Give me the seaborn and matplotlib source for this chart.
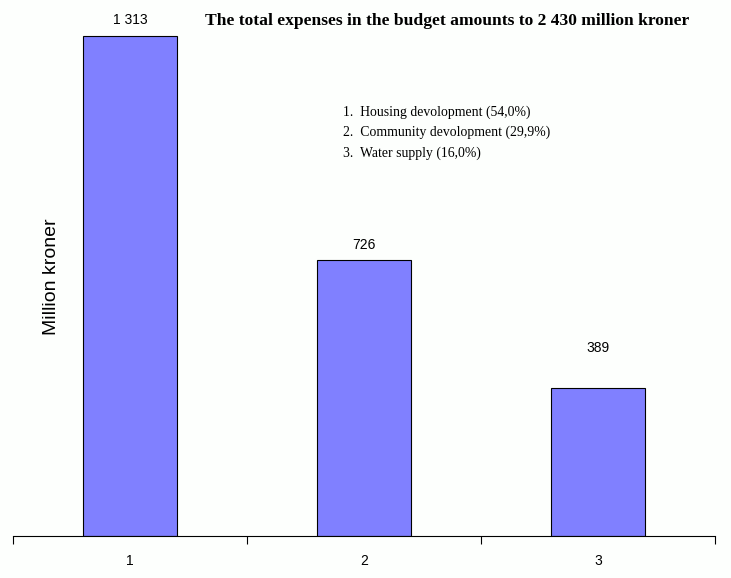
import matplotlib.pyplot as plt
import pandas as pd
import seaborn as sns

categories = ["1", "2", "3"]
expenses = [1313, 726, 389]
value_labels = ["1 313", "726", "389"]
legend_lines = ["1.  Housing devolopment (54,0%)",
                "2.  Community devolopment (29,9%)",
                "3.  Water supply (16,0%)"]
title = "The total expenses in the budget amounts to 2 430 million kroner"
label_offsets = [16, 15, 40]   # px above bar top, as in the original


def make_plot(path="out.png"):
    sns.set_style("white")
    plt.rcParams['font.family'] = ['Liberation Sans', 'DejaVu Sans']
    plt.rcParams['text.color'] = 'black'
    plt.rcParams['xtick.color'] = 'black'

    data = pd.DataFrame({"cat": categories, "value": expenses})

    fig = plt.figure(figsize=(7.31, 5.78), dpi=100)
    fig.patch.set_facecolor("#fdfffd")
    ax = fig.add_axes([13 / 731, 42 / 578, (715 - 13) / 731, 536 / 578])
    ax.set_facecolor("#fdfffd")

    sns.barplot(data=data, x="cat", y="value", color="#8080ff", saturation=1,
                width=0.4, edgecolor="black", linewidth=0.8, ax=ax)

    ax.set_xlim(-0.5, 2.5)
    ax.set_ylim(0, 1407.6)

    for sp in ["top", "right", "left"]:
        ax.spines[sp].set_visible(False)
    ax.spines["bottom"].set_linewidth(0.8)
    ax.spines["bottom"].set_color("black")

    ax.set_xticks([-0.5, 0.5, 1.5, 2.5])
    ax.set_xticklabels([])
    ax.tick_params(axis="x", which="major", direction="out", length=6,
                   width=0.8, bottom=True, color="black")
    ax.set_xticks([0, 1, 2], minor=True)
    ax.set_xticklabels(categories, minor=True, fontsize=10)
    ax.tick_params(axis="x", which="minor", length=0, pad=13,
                   labelcolor="black")
    ax.set_yticks([])
    ax.set_xlabel("")
    ax.set_ylabel("")

    for i, (v, lab) in enumerate(zip(expenses, value_labels)):
        ax.annotate(lab, (i, v), xytext=(0, label_offsets[i] * 0.72),
                    textcoords="offset points", ha="center", va="center",
                    fontsize=10, color="black")

    fig.text(52 / 731, 1 - 277 / 578, "Million kroner", rotation=90,
             ha="center", va="center", fontsize=14)
    fig.text(447 / 731, 1 - 21 / 578, title, ha="center", va="center",
             fontsize=12.6, fontweight="bold", family=["Liberation Serif"])
    for k, line in enumerate(legend_lines):
        fig.text(343 / 731, 1 - (112 + k * 20.5) / 578, line, ha="left",
                 va="center", fontsize=9.9, family=["Liberation Serif"])

    fig.savefig(path, dpi=100, facecolor=fig.get_facecolor())
    plt.close(fig)


make_plot()
